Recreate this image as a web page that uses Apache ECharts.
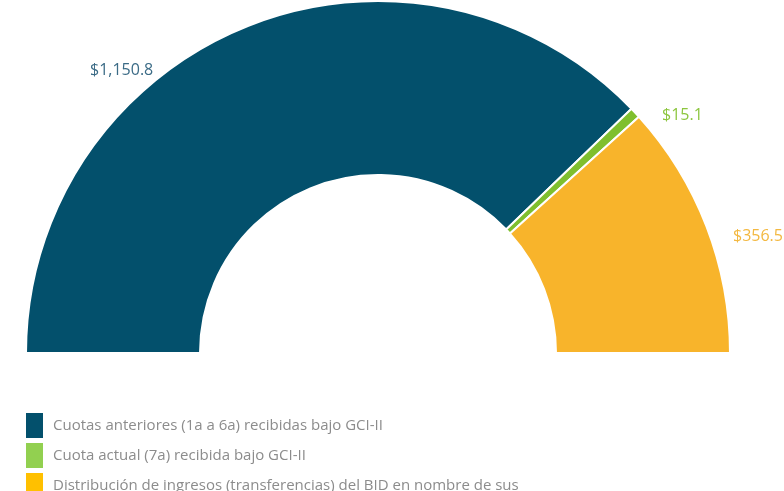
<!DOCTYPE html>
<html>
<head>
<meta charset="utf-8">
<script src="https://cdn.jsdelivr.net/npm/echarts@6/dist/echarts.min.js"></script>
<style>html,body{margin:0;padding:0;background:#fff;}#c{width:784px;height:491px;}</style>
</head>
<body>
<div id="c"></div>
<script>
const categories = [
  'Cuotas anteriores (1a a 6a) recibidas bajo GCI-II',
  'Cuota actual (7a) recibida bajo GCI-II',
  'Distribución de ingresos (transferencias) del BID en nombre de sus'
];
const values = [1150.8, 15.1, 356.5];
const labels = ['$1,150.8', '$15.1', '$356.5'];
const sliceColors = ['#03506C', '#7FBF2E', '#F8B42B'];
const legendColors = ['#03506C', '#92D050', '#FFC000'];
const labelColors = ['#3B6B86', '#8DC63F', '#F3B840'];
const labelPos = [[90, 70], [662, 115], [733, 236]];

const chart = echarts.init(document.getElementById('c'));
chart.setOption({
  animation: false,
  legend: {
    orient: 'vertical',
    left: 24,
    top: 411,
    height: 200,
    padding: 0,
    itemWidth: 19,
    itemHeight: 27,
    itemGap: 1,
    icon: 'rect',
    textStyle: { color: '#8C8C8C', fontSize: 15, fontFamily: 'Open Sans', padding: [0, 0, 0, 4] },
    data: categories.map((n, i) => ({ name: n, itemStyle: { color: legendColors[i] } }))
  },
  series: [{
    type: 'pie',
    center: [378, 353],
    radius: [178, 352],
    startAngle: 180,
    endAngle: 0,
    clockwise: true,
    avoidLabelOverlap: false,
    itemStyle: { borderColor: '#fff', borderWidth: 2 },
    labelLine: { show: false },
    label: {
      show: true,
      position: 'outside',
      fontFamily: 'Open Sans',
      fontSize: 16,
      formatter: p => labels[p.dataIndex]
    },
    labelLayout: p => ({ x: labelPos[p.dataIndex][0], y: labelPos[p.dataIndex][1], align: 'left', verticalAlign: 'middle' }),
    data: categories.map((n, i) => ({
      name: n, value: values[i],
      itemStyle: { color: sliceColors[i] },
      label: { color: labelColors[i] }
    }))
  }]
});
</script>
</body>
</html>
